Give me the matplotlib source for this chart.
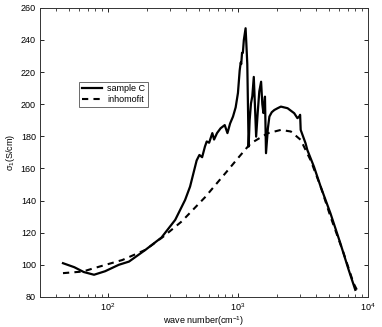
import matplotlib
matplotlib.use("Agg")
import matplotlib.pyplot as plt
from matplotlib.ticker import LogLocator, NullFormatter, MultipleLocator

plt.rcParams["font.family"] = ["Liberation Sans", "DejaVu Sans"]
plt.rcParams["mathtext.fontset"] = "custom"
plt.rcParams["mathtext.rm"] = "Liberation Sans"
plt.rcParams["mathtext.it"] = "Liberation Sans"

# sample C (measured)
sample_x = [45, 55, 65, 78, 95, 121, 145, 194, 258, 329, 392, 428, 481, 505, 530,
            557, 575, 600, 635, 655, 690, 735, 791, 830, 870, 916, 960, 1000, 1031,
            1050, 1060, 1075, 1091, 1110, 1145, 1160, 1180, 1208, 1230, 1260, 1290,
            1324, 1350, 1380, 1420, 1460, 1507, 1540, 1570, 1614, 1644, 1700, 1746,
            1820, 1906, 2020, 2140, 2410, 2710, 2870, 2960, 3010, 3040, 3313, 3420,
            3850, 4330, 5155, 6140, 7120, 8000]
sample_y = [101, 98.5, 95.5, 93.8, 96, 100, 102, 109.3, 117, 128, 140.4, 148.7, 165,
            168.4, 167, 173.6, 176.8, 176, 182, 178, 182, 185, 187, 182, 188, 192.3,
            198, 207, 221, 226, 225, 232, 232, 240, 247.3, 238, 225, 173.6, 190,
            200.5, 205, 217, 200, 179.8, 195, 208, 214, 200, 194.5, 204.7, 169.5,
            185, 192.3, 195, 196.4, 197.5, 198.5, 197.5, 194.4, 191.3, 192.3, 193.4,
            184, 175.7, 171.5, 161, 148.7, 132, 113.4, 96.8, 84.4]

# inhomogeneous fit
fit_x = [45, 64, 78, 129, 194, 267, 369, 557, 839, 1000, 1191, 1260, 1694, 2140,
         2553, 3040, 3630, 4330, 5155, 6510, 7760, 8490]
fit_y = [94.8, 95.8, 97.9, 103, 109.3, 117.6, 127, 142, 159, 166.4, 173.6, 175.7,
         181.9, 184, 183, 177.8, 165, 148.7, 130, 107.2, 88.5, 82.3]

fig = plt.figure(figsize=(3.82, 3.27), dpi=100)
ax = fig.add_axes([0.105, 0.092, 0.858, 0.884])

ax.plot(sample_x, sample_y, color="black", lw=1.6, label="sample C")
ax.plot(fit_x, fit_y, color="black", lw=1.5, ls=(0, (3, 2.5)), label="inhomofit")

ax.set_xscale("log")
ax.set_xlim(30, 1e4)
ax.set_ylim(80, 260)
ax.yaxis.set_major_locator(MultipleLocator(20))
ax.xaxis.set_major_locator(LogLocator(base=10, numticks=10))
ax.xaxis.set_minor_locator(LogLocator(base=10, subs=range(2, 10), numticks=20))
ax.xaxis.set_minor_formatter(NullFormatter())

ax.tick_params(which="both", direction="in", top=True, right=True, labelsize=6.5)
ax.tick_params(which="major", length=3, width=0.6, pad=3)
ax.tick_params(which="minor", length=2, width=0.5)
for s in ax.spines.values():
    s.set_linewidth(0.7)
    s.set_color("#333333")

ax.set_xlabel("wave number(cm$^{-1}$)", fontsize=6.5, labelpad=1)
ax.set_ylabel("$\\sigma_1$(S/cm)", fontsize=6.5, labelpad=3)

leg = ax.legend(loc="upper left", bbox_to_anchor=(0.12, 0.745), fontsize=6.5,
                frameon=True, fancybox=False, edgecolor="#444444",
                handlelength=2.2, handletextpad=0.6, borderpad=0.3,
                labelspacing=0.2, borderaxespad=0)
leg.get_frame().set_linewidth(0.7)

fig.savefig("out.png", dpi=100)
